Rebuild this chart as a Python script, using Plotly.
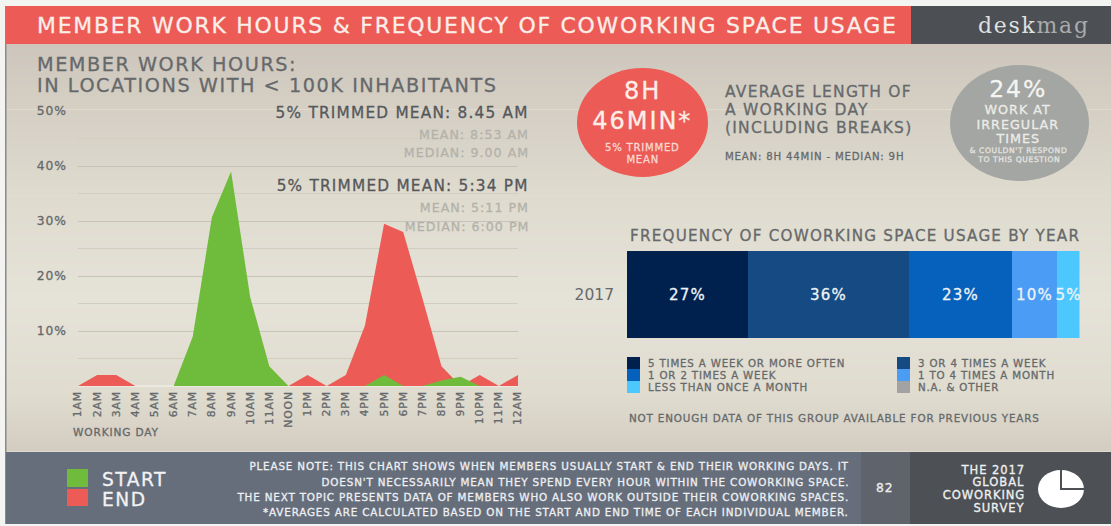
import plotly.graph_objects as go

W, H = 1111, 526

hours = ["1AM","2AM","3AM","4AM","5AM","6AM","7AM","8AM","9AM","10AM","11AM","NOON",
         "1PM","2PM","3PM","4PM","5PM","6PM","7PM","8PM","9PM","10PM","11PM","12AM"]
start_vals = [0,0,0,0,0,0,9,30.7,39,16.2,3.6,0,0,0,0,0,2,0,0,1,1.7,0,0,0]
end_vals = [0,2,2,0,0,0,0,0,0,0,0,0,2,0,2,11,29.5,28,16,3.6,0,2,0,2]

year_labels = ["2017"]
freq_names = ["5 TIMES A WEEK OR MORE OFTEN","3 OR 4 TIMES A WEEK","1 OR 2 TIMES A WEEK",
              "1 TO 4 TIMES A MONTH","LESS THAN ONCE A MONTH","N.A. & OTHER"]
freq_vals = [27,36,23,10,5,0]
freq_cols = ["#00204e","#154a82","#0561bb","#4b9cf5","#4cc8ff","#a2a2a2"]

RED, GREEN = "#ec5b55", "#6fbb3b"
DARK, MID, LIGHT = "#55585b", "#66696b", "#b3b2aa"
FONT = "DejaVu Sans"
TEXT_SCALE = 1.07


def X(px):
    return px / W


def Y(py):
    return 1 - py / H


shapes, notes = [], []


def rect(x0, y0, x1, y1, color, layer="below"):
    shapes.append(dict(type="rect", xref="paper", yref="paper", x0=X(x0), x1=X(x1),
                       y0=Y(y1), y1=Y(y0), fillcolor=color, line_width=0, layer=layer))


def text(s, x, y, size, color=DARK, anchor="left", weight=400, family=FONT):
    notes.append(dict(text=s, x=X(x), y=Y(y), xref="paper", yref="paper", showarrow=False,
                      xanchor=anchor, yanchor="middle", align=anchor,
                      font=dict(size=size * TEXT_SCALE, color=color, family=family, weight=weight)))


# page background, vertical gradient
stops = [(44,(206,198,188)),(110,(213,207,196)),(200,(223,219,207)),(300,(229,226,215)),
         (390,(224,220,208)),(452,(211,205,194))]
rect(0, 0, W, H, "#f3f3f1")
rect(6, 44, W, 452, "#dedace")
for a, b in zip(stops, stops[1:]):
    n = (b[0] - a[0]) // 4
    for i in range(n):
        t = i / max(n - 1, 1)
        c = tuple(round(a[1][k] + (b[1][k] - a[1][k]) * t) for k in range(3))
        rect(6, a[0] + i * 4, W, a[0] + (i + 1) * 4 + 1, "rgb(%d,%d,%d)" % c)
rect(5, 6, 6.5, 524, "#8a8a88")

# header
rect(6, 6, 911, 44, RED)
rect(911, 6, W, 44, "#4c4f54")
text("MEMBER WORK HOURS & FREQUENCY OF COWORKING SPACE USAGE", 35, 25, 20.5, "#fbeee9")
text("desk<span style='color:#a9abac'>mag</span>", 976, 26, 20.5, "#dfe0e0", family="DejaVu Serif")

# left heading
text("MEMBER WORK HOURS:", 35, 64, 18, MID)
text("IN LOCATIONS WITH &lt; 100K INHABITANTS", 35, 86, 18, MID)

# mean call-outs
for s, y, c, sz in [("5% TRIMMED MEAN: 8.45 AM", 113, DARK, 14.3), ("MEAN: 8:53 AM", 134, LIGHT, 11.8),
                    ("MEDIAN: 9.00 AM", 152, LIGHT, 11.8), ("5% TRIMMED MEAN: 5:34 PM", 186, DARK, 14.3),
                    ("MEAN: 5:11 PM", 207, LIGHT, 11.8), ("MEDIAN: 6:00 PM", 226, LIGHT, 11.8)]:
    text(s, 531, y, sz, c, "right")
text("WORKING DAY", 71, 432, 9.9, MID)

# circles
shapes.append(dict(type="circle", xref="paper", yref="paper", x0=X(577), x1=X(708), y0=Y(177), y1=Y(68),
                   fillcolor=RED, line_width=0, layer="below"))
shapes.append(dict(type="circle", xref="paper", yref="paper", x0=X(950), x1=X(1089), y0=Y(181), y1=Y(65),
                   fillcolor="#a3a6a3", line_width=0, layer="below"))
text("8H", 642, 91, 22.5, "#fbeee9", "center")
text("46MIN*", 642, 120.5, 22.5, "#fbeee9", "center")
text("5% TRIMMED", 642, 148, 9.4, "#f8d8d2", "center")
text("MEAN", 642, 160, 9.4, "#f8d8d2", "center")
for s, y in [("AVERAGE LENGTH OF", 92), ("A WORKING DAY", 110), ("(INCLUDING BREAKS)", 128)]:
    text(s, 723, y, 14.5, MID)
text("MEAN: 8H 44MIN - MEDIAN: 9H", 723, 157, 9.5, MID)
text("24%", 1018, 89, 22, "#f4f4f0", "center")
for s, y in [("WORK AT", 109), ("IRREGULAR", 124), ("TIMES", 138)]:
    text(s, 1018, y, 11.9, "#ecece8", "center")
for s, y in [("&amp; COULDN'T RESPOND", 151), ("TO THIS QUESTION", 159)]:
    text(s, 1018, y, 7.1, "#e4e4e0", "center")

# frequency block
text("FREQUENCY OF COWORKING SPACE USAGE BY YEAR", 628, 236, 14.2, MID)
legend_pos = [(627, 363), (897, 363), (627, 375), (897, 375), (627, 387), (897, 387)]
for name, col, (lx, ly) in zip(freq_names, freq_cols, legend_pos):
    rect(lx, ly - 6, lx + 13, ly + 6, col)
    text(name, lx + 19, ly, 9.6, MID)
text("NOT ENOUGH DATA OF THIS GROUP AVAILABLE FOR PREVIOUS YEARS", 627, 418, 9.7, MID)

# footer
rect(6, 452, 861, 524, "#666e7c")
rect(861, 452, 910, 524, "#5f636b")
rect(910, 452, W, 524, "#4d5055")
rect(67, 469, 88, 487, GREEN)
rect(67, 489, 88, 506, RED)
text("START", 100, 479, 17.4, "#f2f2f2")
text("END", 100, 499, 17.4, "#f2f2f2")
foot = ["PLEASE NOTE: THIS CHART SHOWS WHEN MEMBERS USUALLY START & END THEIR WORKING DAYS. IT",
        "DOESN'T NECESSARILY MEAN THEY SPEND EVERY HOUR WITHIN THE COWORKING SPACE.",
        "THE NEXT TOPIC PRESENTS DATA OF MEMBERS WHO ALSO WORK OUTSIDE THEIR COWORKING SPACES.",
        "*AVERAGES ARE CALCULATED BASED ON THE START AND END TIME OF EACH INDIVIDUAL MEMBER."]
for s, y in zip(foot, [466, 482, 497, 512]):
    text(s, 851, y, 9.7, "#eef0f2", "right")
text("82", 885, 488, 11.5, "#eeeeee", "center")
for s, y in zip(["THE 2017", "GLOBAL", "COWORKING", "SURVEY"], [470, 482, 495, 508]):
    text(s, 1027, y, 10.8, "#f0f0f0", "right")
shapes.append(dict(type="circle", xref="paper", yref="paper", x0=X(1038), x1=X(1084), y0=Y(508), y1=Y(470),
                   fillcolor="#ffffff", line_width=0, layer="below"))
shapes.append(dict(type="path", xref="paper", yref="paper", layer="below", line=dict(color="#4d5055", width=2),
                   path=f"M {X(1061)} {Y(468)} L {X(1061)} {Y(489)} L {X(1086)} {Y(489)}"))

fig = go.Figure()
fig.add_trace(go.Scatter(x=hours, y=end_vals, name="END", mode="none", fill="tozeroy", fillcolor=RED))
fig.add_trace(go.Scatter(x=hours, y=start_vals, name="START", mode="none", fill="tozeroy", fillcolor=GREEN))
for name, col, val in zip(freq_names, freq_cols, freq_vals):
    if val:
        fig.add_trace(go.Bar(x=[val], y=year_labels, name=name, orientation="h", marker=dict(color=col, line_width=0),
                             text=[f"{val}%"], textposition="inside", insidetextanchor="middle", textangle=0,
                             constraintext="none", cliponaxis=False,
                             textfont=dict(color="#eef3f6", size=15, family=FONT),
                             xaxis="x2", yaxis="y2"))

fig.update_layout(
    width=W, height=H, margin=dict(l=0, r=0, t=0, b=0, pad=0, autoexpand=False), showlegend=False, autosize=False,
    paper_bgcolor="#f3f3f1", plot_bgcolor="rgba(0,0,0,0)", barmode="stack", bargap=0,
    font=dict(family=FONT), shapes=shapes, annotations=notes,
    xaxis=dict(domain=[X(78), X(518)], anchor="y", type="category", categoryorder="array", categoryarray=hours,
               range=[0, 23], tickangle=-90, showgrid=False, zeroline=False, showline=False, ticks="", automargin=False,
               tickmode="array", tickvals=hours, ticktext=hours, ticklabelstandoff=2, tickfont=dict(size=10.8, color=MID)),
    yaxis=dict(domain=[Y(386), Y(111)], anchor="x", range=[0, 50], tickmode="array", tickvals=[10, 20, 30, 40, 50],
               ticktext=["10%", "20%", "30%", "40%", "50%"], ticklabelstandoff=10, automargin=False,
               tickfont=dict(size=12.3, color=MID), gridcolor="#c6c3b7", gridwidth=1,
               zeroline=True, zerolinecolor="#ece9e0", showline=False,
               minor=dict(tickvals=[5, 15, 25, 35, 45], showgrid=True, gridcolor="#d0cdc1", gridwidth=1, ticks="")),
    xaxis2=dict(domain=[X(627), X(1079.5)], anchor="y2", range=[0, sum(freq_vals)], visible=False, automargin=False),
    yaxis2=dict(domain=[Y(338), Y(251)], anchor="x2", type="category", showgrid=False, zeroline=False, showline=False,
                ticks="", ticklabelstandoff=12, automargin=False, tickfont=dict(size=15.5, color=MID)),
)

# The reference face is a wide one: widen the installed font with tracking and a hairline stroke.
post = """
document.body.style.margin='0';document.body.style.overflow='hidden';
document.querySelectorAll('.annotation-text, .xtick text, .ytick text, .bartext').forEach(function(el){
  el.style.letterSpacing='0.08em';
  if(el.textContent.indexOf('deskmag')===0){return;}
  el.style.stroke=getComputedStyle(el).fill;
  el.style.strokeWidth='0.3px';
});
"""
fig.write_html("out.html", config=dict(displayModeBar=False), post_script=post)
